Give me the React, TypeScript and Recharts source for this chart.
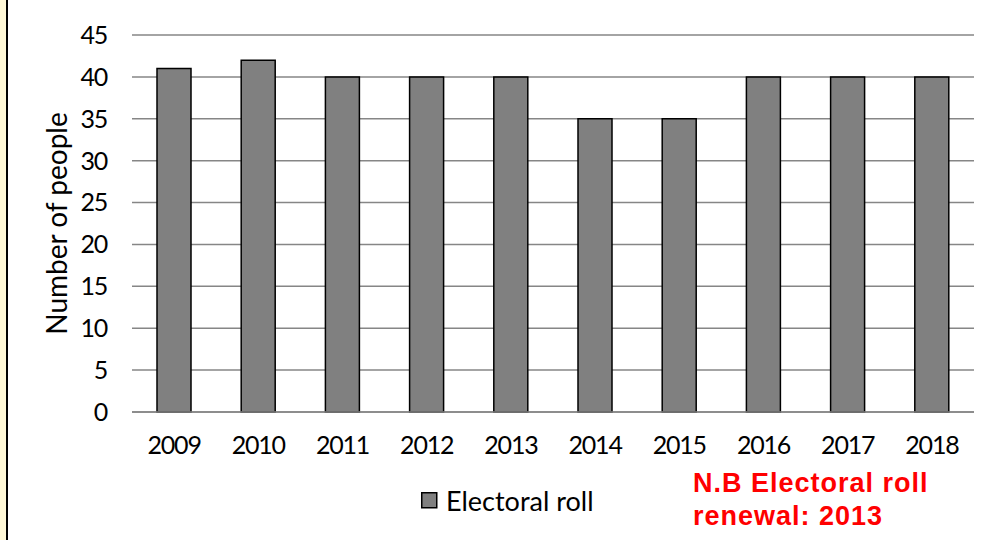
import React from "react";
import { BarChart, Bar, XAxis, YAxis, CartesianGrid, Legend } from "recharts";

const years = ["2009", "2010", "2011", "2012", "2013", "2014", "2015", "2016", "2017", "2018"];
const electoralRoll = [41, 42, 40, 40, 40, 35, 35, 40, 40, 40];
const yTicks = [0, 5, 10, 15, 20, 25, 30, 35, 40, 45];
const seriesName = "Electoral roll";
const yLabel = "Number of people";
const noteLines = ["N.B Electoral roll", "renewal: 2013"];

const data = years.map((y, i) => ({ year: y, value: electoralRoll[i] }));

const FONT = "Lato, 'Open Sans', sans-serif";

const LegendContent = () => (
  <div style={{ display: "flex", alignItems: "center", fontFamily: FONT, fontSize: 27, color: "#000", whiteSpace: "nowrap" }}>
    <svg width={17} height={17} style={{ marginRight: 8 }}>
      <rect x={0.75} y={0.75} width={15} height={15} fill="#808080" stroke="#000" strokeWidth={1.5} />
    </svg>
    <span>{seriesName}</span>
  </div>
);

export default function App() {
  return (
    <div style={{ position: "absolute", left: 0, top: 0, width: 999, height: 540, background: "#fff", overflow: "hidden" }}>
      <div style={{ position: "absolute", left: 0, top: 0, width: 6, height: 540, background: "#FFF8D6" }} />
      <div style={{ position: "absolute", left: 6, top: 0, width: 2, height: 540, background: "#000" }} />
      <BarChart
        width={999}
        height={540}
        data={data}
        margin={{ top: 35, right: 25, left: 0, bottom: 88 }}
        barSize={34}
      >
        <CartesianGrid vertical={false} stroke="#868686" strokeWidth={1.5} />
        <XAxis
          dataKey="year"
          height={40}
          axisLine={{ stroke: "#868686", strokeWidth: 1.5 }}
          tickLine={false}
          tickSize={0}
          tickMargin={24}
          tick={{ fill: "#000", fontSize: 25, fontFamily: FONT, letterSpacing: -1.2 }}
          interval={0}
        />
        <YAxis
          width={132}
          domain={[0, 45]}
          ticks={yTicks}
          axisLine={false}
          tickLine={false}
          tickSize={0}
          tickMargin={25}
          tick={{ fill: "#000", fontSize: 25, fontFamily: FONT, letterSpacing: -1.2 }}
          label={{
            content: (props: any) => {
              const vb = props.viewBox || { x: 0, y: 35, height: 377 };
              const cx = vb.x + 57;
              const cy = vb.y + vb.height / 2;
              return (
                <text
                  x={cx}
                  y={cy}
                  dy="0.35em"
                  textAnchor="middle"
                  transform={`rotate(-90 ${cx} ${cy})`}
                  fontFamily={FONT}
                  fontSize={28}
                  fill="#000"
                >
                  {yLabel}
                </text>
              );
            },
          }}
        />
        <Legend
          layout="vertical"
          align="center"
          verticalAlign="middle"
          wrapperStyle={{ position: "absolute", left: 421, top: 484, width: 220 }}
          content={<LegendContent />}
        />
        <Bar dataKey="value" name={seriesName} fill="#808080" stroke="#000" strokeWidth={1.5} isAnimationActive={false} />
      </BarChart>
      <div
        style={{
          position: "absolute",
          left: 693,
          top: 467,
          fontFamily: "'Liberation Sans', Arial, sans-serif",
          fontWeight: "bold",
          fontSize: 27,
          lineHeight: "33px",
          letterSpacing: 1,
          color: "#FF0000",
          whiteSpace: "nowrap",
        }}
      >
        {noteLines.map((l) => (
          <div key={l}>{l}</div>
        ))}
      </div>
    </div>
  );
}
